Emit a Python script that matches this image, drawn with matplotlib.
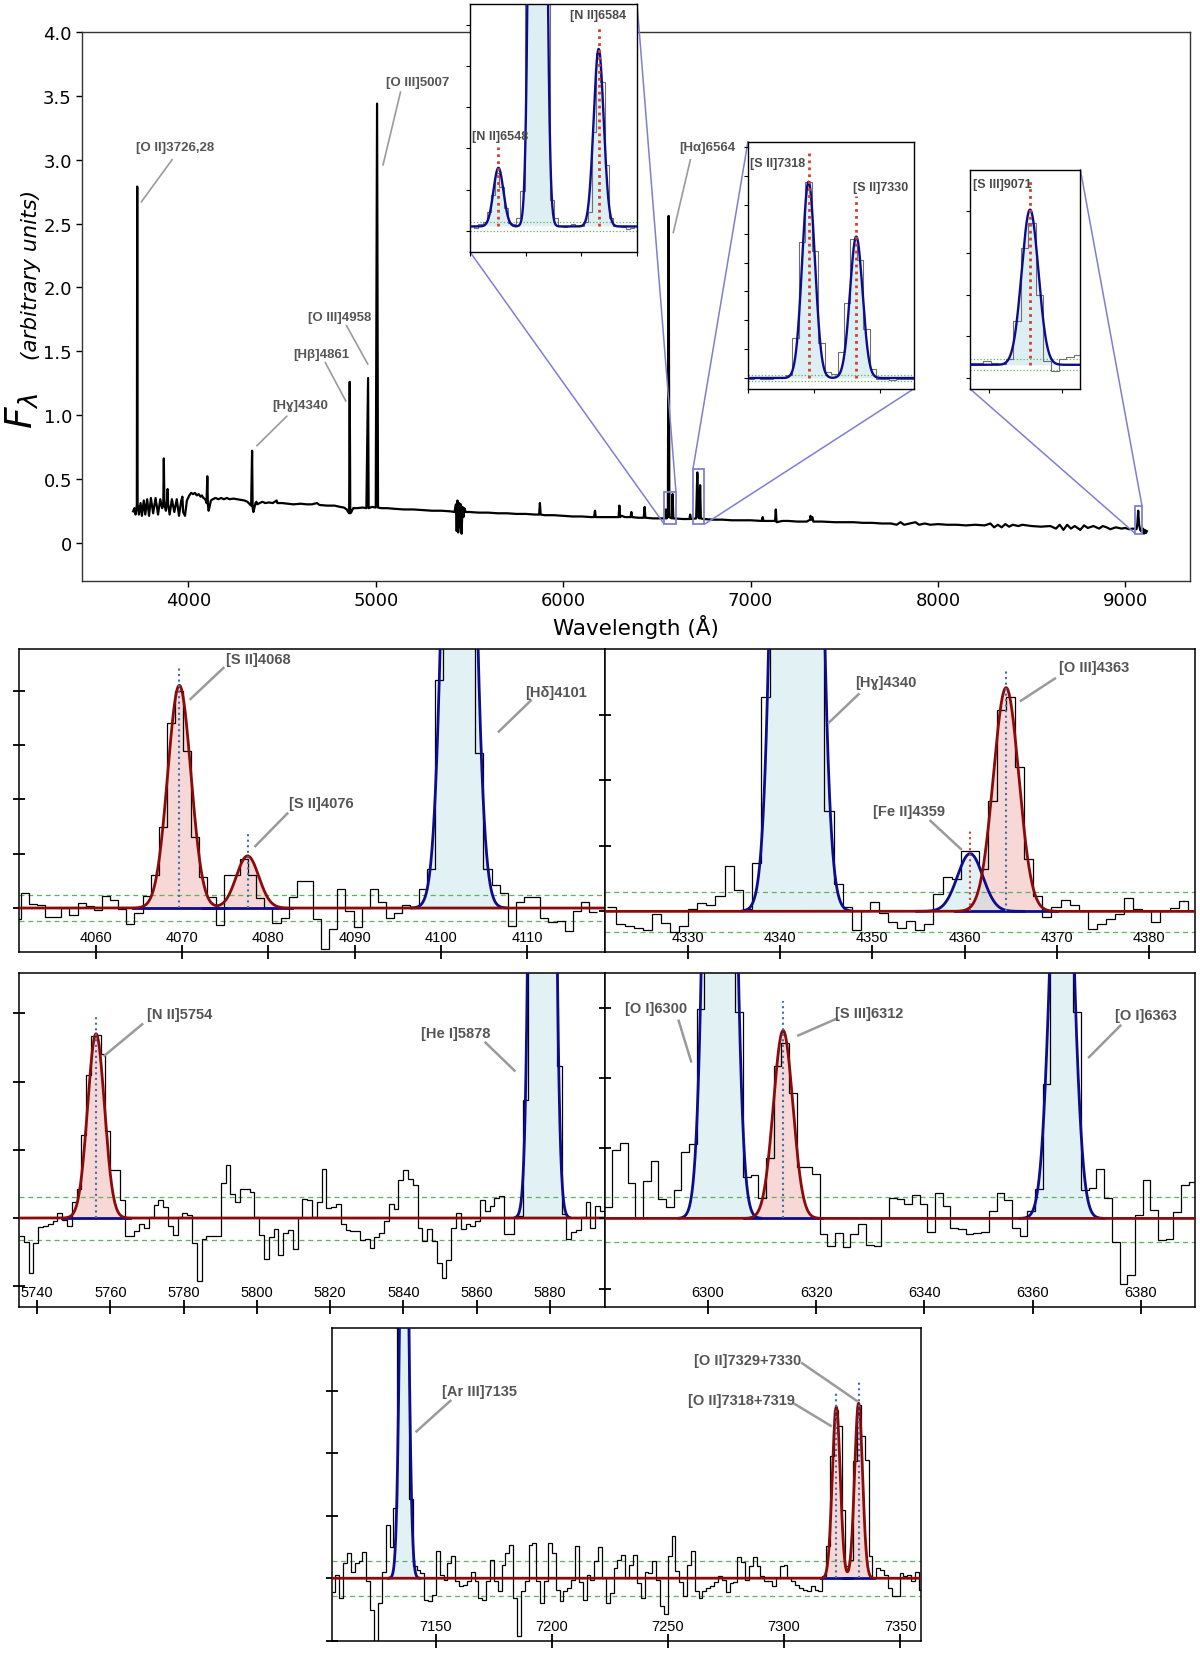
import numpy as np
import matplotlib.pyplot as plt
from matplotlib.patches import Rectangle, ConnectionPatch
from matplotlib.ticker import FuncFormatter

NARROW = ['Liberation Sans', 'DejaVu Sans']
RED = '#8b0a0a'
BLUE = '#0c0c8c'
RED_FILL = '#f2b8b5'
BLUE_FILL = '#bfe0e8'
GREEN = '#5fb35f'
DOT_BLUE = '#3d6fb0'
DOT_RED = '#d0402c'
LINE_GREY = '#9a9a9a'
TEXT_GREY = '#555555'
BOX = '#7f7fd2'

# ---------------- main spectrum (wavelength in A, flux in arbitrary units)
main_wave = [3705, 3712, 3718, 3722, 3725, 3727, 3729, 3736, 3745, 3752, 3762, 3770, 3780, 3790,
             3800, 3812, 3825, 3838, 3850, 3860, 3866, 3869, 3872, 3880, 3886, 3889, 3892, 3900,
             3912, 3925, 3938, 3950, 3962, 3968, 3972, 3982, 3992, 4005, 4015, 4025, 4035, 4045,
             4055, 4065, 4072,
             4080, 4090, 4097, 4101, 4104, 4108, 4113, 4120, 4130, 4145, 4160, 4175, 4190, 4205,
             4220, 4240, 4260, 4280, 4300, 4315, 4328, 4335, 4340, 4343, 4347, 4352, 4358, 4363,
             4368, 4380, 4395, 4410, 4430, 4450, 4471, 4475, 4500, 4530, 4560, 4600, 4630, 4660,
             4686, 4700, 4740, 4780, 4810, 4830, 4845, 4853, 4858, 4861, 4864, 4870, 4880, 4900,
             4930, 4950, 4959, 4962, 4980, 5000, 5007, 5012, 5030, 5060, 5100, 5150, 5200, 5250,
             5300, 5350, 5400, 5420, 5428, 5432, 5436, 5440, 5445, 5449, 5454, 5458, 5463, 5468,
             5473, 5480, 5500, 5550, 5600, 5650, 5700, 5750, 5800, 5850, 5872, 5876, 5880, 5900,
             5950, 6000, 6050, 6100, 6150, 6165, 6170, 6174, 6200, 6250, 6296, 6300, 6304, 6312,
             6330, 6360, 6364, 6368, 6400, 6430, 6435, 6439, 6480, 6520, 6545, 6548, 6552, 6559,
             6563, 6567, 6580, 6584, 6588, 6640, 6674, 6678, 6682, 6710, 6716, 6722, 6727, 6731,
             6735, 6750, 6800, 6850, 6900, 6950, 7000, 7060, 7065, 7069, 7110, 7131, 7135, 7139,
             7170, 7200, 7250, 7300, 7318, 7320, 7325, 7330, 7335, 7380, 7450, 7500, 7550, 7600,
             7650, 7700, 7750, 7780, 7800, 7820, 7850, 7880, 7900, 7930, 7960, 8000, 8050, 8100,
             8150, 8200, 8250, 8280, 8300, 8320, 8340, 8360, 8380, 8400, 8430, 8450, 8500, 8550,
             8600, 8630, 8650, 8670, 8690, 8710, 8730, 8760, 8780, 8800, 8830, 8860, 8880, 8900,
             8920, 8950, 8980, 9000, 9020, 9040, 9060, 9064, 9069, 9074, 9080, 9090, 9095, 9100,
             9105, 9110, 9115]
main_flux = [0.245, 0.27, 0.22, 0.26, 0.30, 2.79, 0.30, 0.22, 0.31, 0.21, 0.33, 0.22, 0.34, 0.21,
             0.35, 0.23, 0.35, 0.22, 0.34, 0.27, 0.30, 0.66, 0.30, 0.25, 0.33, 0.42, 0.30, 0.22,
             0.34, 0.24, 0.34, 0.21, 0.33, 0.36, 0.24, 0.21, 0.33, 0.37, 0.39, 0.38, 0.39, 0.37,
             0.38, 0.36, 0.37,
             0.35, 0.34, 0.31, 0.52, 0.30, 0.25, 0.28, 0.33, 0.34, 0.35, 0.34, 0.35, 0.34, 0.35,
             0.34, 0.345, 0.34, 0.335, 0.33, 0.32, 0.30, 0.29, 0.72, 0.27, 0.24, 0.27, 0.31, 0.32,
             0.30, 0.31, 0.32, 0.31, 0.315, 0.31, 0.33, 0.31, 0.31, 0.305, 0.30, 0.305, 0.30, 0.30,
             0.31, 0.295, 0.29, 0.29, 0.28, 0.275, 0.26, 0.24, 0.23, 1.26, 0.23, 0.24, 0.27, 0.27,
             0.275, 0.27, 1.29, 0.27, 0.28, 0.275, 3.44, 0.275, 0.27, 0.27, 0.265, 0.26, 0.26, 0.255,
             0.25, 0.25, 0.245, 0.24, 0.30, 0.09, 0.33, 0.08, 0.31, 0.12, 0.30, 0.07, 0.28, 0.20,
             0.27, 0.24, 0.24, 0.235, 0.235, 0.23, 0.23, 0.225, 0.225, 0.22, 0.22, 0.31, 0.22, 0.215,
             0.215, 0.21, 0.205, 0.205, 0.20, 0.20, 0.25, 0.20, 0.20, 0.20, 0.20, 0.29, 0.20, 0.21,
             0.20, 0.20, 0.24, 0.20, 0.195, 0.195, 0.28, 0.195, 0.19, 0.19, 0.19, 0.26, 0.19, 0.20,
             2.56, 0.20, 0.19, 0.38, 0.19, 0.185, 0.185, 0.22, 0.185, 0.19, 0.55, 0.20, 0.19, 0.45,
             0.19, 0.185, 0.18, 0.18, 0.175, 0.175, 0.175, 0.17, 0.20, 0.17, 0.17, 0.17, 0.26, 0.16,
             0.17, 0.17, 0.165, 0.165, 0.18, 0.21, 0.18, 0.20, 0.165, 0.165, 0.16, 0.16, 0.16, 0.155,
             0.155, 0.15, 0.15, 0.14, 0.16, 0.14, 0.15, 0.16, 0.14, 0.15, 0.14, 0.145, 0.14, 0.14,
             0.135, 0.14, 0.135, 0.15, 0.12, 0.14, 0.12, 0.145, 0.125, 0.14, 0.13, 0.14, 0.13, 0.125,
             0.13, 0.11, 0.14, 0.10, 0.14, 0.11, 0.13, 0.10, 0.135, 0.115, 0.13, 0.11, 0.13, 0.12,
             0.105, 0.12, 0.11, 0.115, 0.105, 0.11, 0.105, 0.14, 0.25, 0.14, 0.10, 0.08, 0.11, 0.07,
             0.10, 0.075, 0.09]

main_notes = ['[O II]3726,28', '[O III]5007', '[O III]4958', '[H\u03b2]4861', '[H\u0263]4340', '[H\u03b1]6564']
main_note_xy = [(3723, 3.10), (5055, 3.61), (4638, 1.77), (4560, 1.48), (4445, 1.08), (6619, 3.10)]
main_note_from = [(3913, 3.00), (5132, 3.53), (4844, 1.70), (4731, 1.41), (4525, 0.99), (6679, 3.00)]
main_note_to = [(3749, 2.67), (5039, 2.96), (4957, 1.40), (4840, 1.11), (4366, 0.76), (6588, 2.43)]

# zoom boxes on the main spectrum: (x0, x1, y0, y1)
boxes = [(6538, 6602, 0.148, 0.40), (6693, 6753, 0.143, 0.578), (9054, 9089, 0.07, 0.29)]

# ---------------- insets (flux in units of the inset tick spacing)
in1_start, in1_step = 6540.0, 1.51
in1_flux = [0.02, -0.03, 0.05, 0.1, 0.35, 0.75, 1.3, 0.95, 0.45, 0.08, 0.05, 0.2, 0.85, 6, 6, 6,
            6, 6, 6, 0.65, 0.2, 0.0, -0.02, 0.0, 0.05, 0.0, 0.02, 0.1, 0.35, 2.3, 4.2, 3.5, 1.5,
            0.2, 0.02, 0.0, -0.02, -0.05, -0.03, 0.0]
in1_c, in1_a, in1_s = [6550.2, 6564.3, 6586.2], [1.42, 60.0, 4.3], [1.8, 1.7, 1.8]
in1_dot_c, in1_dot_top = [6550.2, 6586.2], [1.92, 4.88]

in2_start, in2_step = 6697.8, 1.95
in2_flux = [0.0, -0.02, 0.02, -0.04, -0.05, 0.0, 0.03, 0.1, 1.4, 4.7, 6.8, 4.4, 1.2, 0.2, 0.15,
            0.9, 2.6, 4.8, 4.1, 1.7, 0.3, -0.03, -0.05, -0.06, -0.03, -0.04, -0.03]
in2_c, in2_a, in2_s = [6718.3, 6732.7], [6.8, 4.9], [1.9, 1.9]
in2_dot_c, in2_dot_top = [6718.3, 6732.7], [7.9, 6.3]

in3_start, in3_step = 9054.45, 2.05
in3_flux = [0.05, 0.05, 0.08, 0.05, 0.02, 0.14, 1.06, 2.8, 3.4, 1.67, 0.1, -0.14, 0.14, 0.19, 0.23]
in3_c, in3_a, in3_s = [9071.3], [3.72], [2.27]
in3_dot_c, in3_dot_top = [9071.3], [4.46]

# ---------------- zoomed panels
p1_start, p1_step = 4050.4, 0.94
p1_flux = [-0.2, 0.28, 0.07, 0.05, -0.17, -0.17, 0.0, -0.12, 0.1, 0.03, -0.04, 0.22, 0.14, -0.02,
           -0.3, -0.1, 0.22, 0.6, 1.5, 3.4, 4.0, 2.9, 1.3, 0.58, 0.2, -0.32, 0.6, 0.6, 0.9, 0.6,
           0.18, 0.0, -0.27, -0.18, 0.2, 0.5, 0.5, -0.2, -0.75, -0.38, 0.35, -0.05, -0.35, 0.0,
           0.35, 0.11, -0.18, -0.1, 0.05, 0.0, 0.35, 0.72, 4.2, 6, 6, 6, 6, 2.85, 0.72, 0.42, 0.28,
           -0.33, 0.11, 0.2, 0.2, -0.18, -0.25, -0.23, -0.43, -0.06, 0.11, -0.07]
p1_red_c, p1_red_a, p1_red_s = [4069.7, 4077.6], [4.1, 0.96], [1.34, 1.3]
p1_blue_c, p1_blue_a, p1_blue_s = [4102.1], [20.0], [1.3]
p1_dot_c, p1_dot_top, p1_dot_col = [4069.7, 4077.6], [4.48, 1.37], [DOT_BLUE, DOT_BLUE]
p1_notes = ['[S II]4068', '[S II]4076', '[H\u03b4]4101']
p1_note_xy = [(4075.1, 4.58), (4082.4, 1.93), (4109.7, 3.98)]
p1_note_from = [(4074.8, 4.42), (4082.2, 1.74), (4110.4, 3.82)]
p1_note_to = [(4071.0, 3.85), (4078.5, 1.14), (4106.7, 3.25)]

p2_start, p2_step = 4321.16, 0.985
p2_flux = [0.07, -0.19, -0.23, -0.26, -0.28, -0.04, -0.17, -0.32, -0.22, 0.04, 0.12, 0.1, 0.24,
           0.69, 0.33, 0.03, 0.74, 3.27, 6, 6, 6, 6, 6, 6, 1.53, 0.41, 0.07, -0.29, 0.0, 0.14,
           -0.03, -0.16, -0.26, -0.14, -0.29, -0.19, 0.26, 0.52, 0.49, 0.92, 0.92, 0.64, 1.69,
           3.07, 3.27, 2.2, 0.8, 0.23, -0.08, 0.06, 0.18, 0.1, 0.01, -0.27, -0.19, -0.12, -0.04,
           0.2, 0.04, 0.01, -0.16, 0.01, 0.05, 0.16, 0.0]
p2_red_c, p2_red_a, p2_red_s = [4364.5], [3.41], [1.38]
p2_blue_c, p2_blue_a, p2_blue_s = [4341.8, 4360.6], [44.0, 0.88], [1.4, 1.38]
p2_dot_c, p2_dot_top, p2_dot_col = [4360.6, 4364.5], [1.23, 3.68], [DOT_RED, DOT_BLUE]
p2_notes = ['[H\u0263]4340', '[Fe II]4359', '[O III]4363']
p2_note_xy = [(4348.1, 3.5), (4350.05, 1.53), (4370.2, 3.73)]
p2_note_from = [(4348.5, 3.31), (4356.3, 1.38), (4369.8, 3.55)]
p2_note_to = [(4345.3, 2.88), (4359.6, 0.95), (4366.1, 3.21)]

p3_start, p3_step = 5735.1, 1.31
p3_flux = [-0.26, -0.35, -0.81, -0.36, -0.13, -0.11, -0.09, -0.04, 0.08, -0.03, -0.11, 0.23, 0.43,
           1.22, 2.09, 2.67, 2.68, 2.4, 1.28, 0.71, 0.71, 0.27, -0.27, -0.27, -0.19, -0.09, -0.15,
           0.02, 0.19, 0.27, 0.16, -0.11, -0.25, 0.01, 0.07, 0.04, -0.37, -0.93, -0.3, -0.27,
           -0.27, -0.26, 0.51, 0.77, 0.35, 0.24, 0.43, 0.42, 0.38, 0.01, -0.25, -0.6, -0.28,
           -0.16, -0.54, -0.22, -0.17, -0.45, 0.0, 0.28, 0.27, 0.01, 0.24, 0.72, 0.14, 0.16, 0.21,
           -0.09, -0.17, -0.19, -0.19, -0.32, -0.31, -0.44, -0.28, -0.22, -0.04, 0.21, 0.13, 0.56,
           0.71, 0.57, 0.49, -0.15, -0.33, -0.16, -0.33, -0.66, -0.88, -0.62, -0.14, 0.08, -0.16,
           -0.09, -0.11, -0.04, 0.27, 0.11, 0.18, 0.29, 0.33, -0.23, -0.23, 0.0, 0.03, 1.73, 5, 5,
           5, 5, 5, 5, 2.23, 0.06, -0.31, -0.2, -0.17, 0.01, 0.24, -0.14, 0.17, 0.1]
p3_red_c, p3_red_a, p3_red_s = [5756.1], [2.70], [2.3]
p3_blue_c, p3_blue_a, p3_blue_s = [5877.9], [53.0], [1.77]
p3_dot_c, p3_dot_top, p3_dot_col = [5756.1], [2.97], [DOT_BLUE]
p3_notes = ['[N II]5754', '[He I]5878']
p3_note_xy = [(5769.9, 2.99), (5844.9, 2.71)]
p3_note_from = [(5768.7, 2.84), (5862.4, 2.57)]
p3_note_to = [(5758.4, 2.38), (5870.3, 2.16)]

p4_start, p4_step = 6280.9, 1.42
p4_flux = [0.16, 0.97, 1.07, 0.5, 0.0, 0.54, 0.82, 0.28, 0.16, 0.4, 0.95, 1.06, 2.99, 5, 5, 5, 5,
           2.95, 0.59, 0.62, 0.29, 0.86, 2.17, 2.5, 1.79, 0.73, 0.74, 0.63, -0.22, -0.39, -0.21,
           -0.41, -0.22, -0.08, -0.38, -0.4, 0.0, 0.29, 0.27, 0.2, 0.33, 0.2, -0.2, 0.36, 0.18,
           -0.14, -0.15, -0.22, -0.21, -0.2, 0.11, 0.36, 0.26, -0.13, -0.25, 0.11, 0.42, 1.92, 5,
           5, 5, 2.94, 0.4, 0.44, 0.7, 0.29, -0.33, -0.94, -0.81, 0.05, 0.55, 0.12, -0.31, -0.3,
           0.09, 0.48, 0.52]
p4_red_c, p4_red_a, p4_red_s = [6313.9], [2.68], [1.8]
p4_blue_c, p4_blue_a, p4_blue_s = [6302.2, 6365.4], [22.0, 7.6], [1.8, 1.85]
p4_dot_c, p4_dot_top, p4_dot_col = [6313.9], [3.1], [DOT_BLUE]
p4_notes = ['[O I]6300', '[S III]6312', '[O I]6363']
p4_note_xy = [(6284.6, 3.0), (6323.5, 2.93), (6375.2, 2.9)]
p4_note_from = [(6294.6, 2.82), (6323.8, 2.85), (6376.2, 2.75)]
p4_note_to = [(6296.9, 2.24), (6316.7, 2.61), (6370.4, 2.3)]

p5_start, p5_step = 7105.0, 1.665
p5_flux = [-0.22, 0.05, -0.31, 0.25, 0.4, 0.1, 0.25, 0.27, 0.42, -0.05, -0.5, -1.1, -0.4, 0.1, 0.85,
           0.5, 1.13, 6, 6, 4.5, 1.27, 0.2, 0.14, 0.09, -0.34, -0.36, -0.26, 0.44, 0.06, -0.02,
           0.25, 0.36, -0.04, -0.12, -0.1, -0.04, 0.1, -0.04, -0.31, -0.34, -0.04, 0.3, -0.04,
           -0.2, 0.22, 0.41, 0.53, -0.31, -0.92, -0.2, -0.04, 0.54, 0.56, -0.04, -0.39, -0.04,
           0.56, 0.41, -0.19, -0.36, -0.2, -0.15, -0.02, 0.52, -0.06, -0.34, 0.06, -0.02, 0.28,
           0.5, 0.01, -0.39, -0.23,
           0.17, 0.29, 0.38, 0.01, 0.22, 0.37, -0.07, -0.31, 0.1, 0.09, 0.28, -0.02, -0.44, -0.57,
           0.36, 0.68, 0.12, -0.06, -0.28, 0.21, 0.44, -0.2, -0.32, -0.2, -0.16, -0.12, -0.06,
           0.04, -0.02, -0.22, -0.07, -0.06, 0.34, 0.26, -0.02, 0.2, 0.34, 0.2, 0.04, -0.04, -0.04,
           -0.12, 0.01, 0.2, 0.21, 0.01, -0.04, -0.11, -0.15, -0.18, -0.2, -0.12, -0.18, -0.2,
           0.04, 0.52, 1.95, 2.7, 2.43, 1.1, 0.2, 0.3, 1.87, 2.78, 2.27, 1.9, 0.36, 0.0, 0.17,
           0.14, 0.06, -0.15, -0.28, -0.28, 0.09, 0.04, 0.06, -0.05, 0.1, -0.18]
p5_red_c, p5_red_a, p5_red_s = [7322.5, 7332.1], [2.74, 2.80], [1.7, 1.7]
p5_blue_c, p5_blue_a, p5_blue_s = [7136.3], [9.0], [1.6]
p5_dot_c, p5_dot_top, p5_dot_col = [7322.5, 7332.1], [2.96, 3.15], [DOT_BLUE, DOT_BLUE]
p5_notes = ['[Ar III]7135', '[O II]7329+7330', '[O II]7318+7319']
p5_note_xy = [(7152.5, 3.0), (7261.0, 3.49), (7258.5, 2.86)]
p5_note_from = [(7156.2, 2.84), (7307.8, 3.44), (7304.5, 2.79)]
p5_note_to = [(7141.6, 2.35), (7331.3, 2.84), (7320.1, 2.44)]


def gauss(x, c, a, s):
    return a * np.exp(-0.5 * ((x - c) / s) ** 2)


def zoom_panel(ax, start, step, flux, xlim, ylim, red, blue, dots, notes, xticks, yticks, green):
    edges = start + step * np.arange(len(flux) + 1)
    x = np.linspace(xlim[0], xlim[1], 3000)
    red_model = np.zeros_like(x)
    for c, a, s in zip(*red):
        red_model += gauss(x, c, a, s)
    ax.fill_between(x, 0, red_model, where=red_model > 0.003, color=RED_FILL, alpha=0.55, lw=0, zorder=1)
    for c, a, s in zip(*blue):
        xb = np.linspace(c - 4.2 * s, c + 4.2 * s, 400)
        yb = gauss(xb, c, a, s)
        ax.fill_between(xb, 0, yb, color=BLUE_FILL, alpha=0.45, lw=0, zorder=1)
        ax.plot(xb, yb, color=BLUE, lw=2.0, zorder=3)
    for c, a, s in zip(*red):
        ax.plot([c - 4.0 * s, c + 4.0 * s], [0, 0], color=BLUE, lw=2.0, zorder=3)
    ax.stairs(flux, edges, baseline=None, color='k', lw=0.9, zorder=2)
    ax.plot(x, red_model, color=RED, lw=2.0, zorder=4)
    for g in green:
        ax.axhline(g, color=GREEN, lw=0.9, ls=(0, (4, 3)), zorder=1.5)
    for c, top, col in zip(*dots):
        ax.plot([c, c], [0, top], color=col, lw=1.5, ls=':', zorder=5)
    for txt, xy, p0, p1 in zip(*notes):
        ax.plot([p0[0], p1[0]], [p0[1], p1[1]], color=LINE_GREY, lw=1.8, zorder=6)
        ax.text(xy[0], xy[1], txt, ha='left', va='center', fontsize=10.5, fontweight='bold',
                color=TEXT_GREY, family=NARROW, zorder=6)
    ax.set_xlim(*xlim)
    ax.set_ylim(*ylim)
    ax.set_xticks(xticks)
    ax.set_yticks(yticks)
    ax.tick_params(axis='x', direction='inout', length=10, width=1.3, pad=-21, labelsize=10.5,
                   labelfontfamily=NARROW)
    ax.tick_params(axis='y', direction='inout', length=9, width=1.3, labelleft=False)
    for sp in ax.spines.values():
        sp.set_linewidth(1.1)


def inset_panel(ax, start, step, flux, xlim, ylim, lines, dots, xticks, yticks, green, labels):
    edges = start + step * np.arange(len(flux) + 1)
    x = np.linspace(xlim[0], xlim[1], 2000)
    model = np.zeros_like(x)
    for c, a, s in zip(*lines):
        model += gauss(x, c, a, s)
    ax.fill_between(x, 0, model, color=BLUE_FILL, alpha=0.5, lw=0, zorder=1)
    ax.stairs(flux, edges, baseline=None, color='#6f6f6f', lw=0.8, zorder=2)
    ax.plot(x, model, color=BLUE, lw=1.7, zorder=3)
    for g in green:
        ax.axhline(g, color=GREEN, lw=0.9, ls=':', zorder=1.5)
    for c, top in zip(*dots):
        ax.plot([c, c], [0, top], color=DOT_RED, lw=2.0, ls=(0, (1, 1.5)), zorder=4)
    for txt, xy in zip(*labels):
        ax.text(xy[0], xy[1], txt, ha='left', va='center', fontsize=9, fontweight='bold',
                color='#4a4a4a', family=NARROW, zorder=5)
    ax.set_xlim(*xlim)
    ax.set_ylim(*ylim)
    ax.set_xticks(xticks)
    ax.set_yticks(yticks)
    ax.tick_params(direction='out', length=3, width=0.8, labelbottom=False, labelleft=False)
    for sp in ax.spines.values():
        sp.set_linewidth(1.0)


fig = plt.figure(figsize=(12.0, 16.56), dpi=100)

# ---------------- main spectrum
ax = fig.add_axes([0.0686, 0.6486, 0.923, 0.3314])
ax.plot(main_wave, main_flux, color='k', lw=1.6, zorder=3)
ax.set_xlim(3434, 9345)
ax.set_ylim(-0.3, 4.0)
ax.set_xticks([4000, 5000, 6000, 7000, 8000, 9000])
ax.set_yticks([0, 0.5, 1.0, 1.5, 2.0, 2.5, 3.0, 3.5, 4.0])
ax.yaxis.set_major_formatter(FuncFormatter(lambda v, p: '0' if v == 0 else f'{v:.1f}'))
ax.tick_params(labelsize=13, length=4, width=1)
ax.set_xlabel('Wavelength (\u00c5)', fontsize=15.5, labelpad=3)
for sp in ax.spines.values():
    sp.set_linewidth(1.0)
    sp.set_color('#333333')
for txt, xy, p0, p1 in zip(main_notes, main_note_xy, main_note_from, main_note_to):
    ax.plot([p0[0], p1[0]], [p0[1], p1[1]], color=LINE_GREY, lw=1.2, zorder=4)
    ax.text(xy[0], xy[1], txt, ha='left', va='center', fontsize=9.5, fontweight='bold',
            color=TEXT_GREY, family=NARROW, zorder=4)
for x0, x1, y0, y1 in boxes:
    ax.add_patch(Rectangle((x0, y0), x1 - x0, y1 - y0, fill=False, ec=BOX, lw=1.3, zorder=5))

fig.text(0.019, 0.752, r'$F_\lambda$', rotation=90, fontsize=27, ha='center', va='center')
fig.text(0.026, 0.834, '(arbitrary units)', rotation=90, fontsize=15.5, style='italic',
         ha='center', va='center')

# ---------------- insets
ins1 = fig.add_axes([0.3917, 0.8472, 0.1392, 0.1498], zorder=5)
inset_panel(ins1, in1_start, in1_step, in1_flux, (6540, 6600), (-0.62, 5.39),
            (in1_c, in1_a, in1_s), (in1_dot_c, in1_dot_top), [6540, 6560, 6580, 6600],
            [-0.11 + k for k in range(6)], [0.1, -0.11],
            (['[N II]6548', '[N II]6584'], [(6540.6, 2.2), (6576.0, 5.12)]))
ins2 = fig.add_axes([0.6233, 0.7645, 0.1380, 0.1494], zorder=5)
inset_panel(ins2, in2_start, in2_step, in2_flux, (6700, 6750), (-0.38, 8.19),
            (in2_c, in2_a, in2_s), (in2_dot_c, in2_dot_top), [6700, 6720, 6740],
            list(range(9)), [0.1, -0.09],
            (['[S II]7318', '[S II]7330'], [(6700.5, 7.45), (6731.8, 6.6)]))
ins3 = fig.add_axes([0.8085, 0.7645, 0.0918, 0.1325], zorder=5)
inset_panel(ins3, in3_start, in3_step, in3_flux, (9055, 9085), (-0.58, 4.68),
            (in3_c, in3_a, in3_s), (in3_dot_c, in3_dot_top), [9060, 9080],
            [-0.32 + k for k in range(5)], [0.14, -0.13],
            (['[S III]9071'], [(9055.8, 4.33)]))

links = [(ins1, boxes[0], [((0, 2), (0, 0)), ((1, 3), (1, 1))]),
         (ins2, boxes[1], [((0, 3), (0, 1)), ((1, 2), (1, 0))]),
         (ins3, boxes[2], [((0, 2), (0, 0)), ((1, 3), (1, 1))])]
for ins, box, pairs in links:
    for (ix, iy), corner in pairs:
        con = ConnectionPatch(xyA=(box[ix], box[iy]), coordsA=ax.transData,
                              xyB=corner, coordsB=ins.transAxes, color=BOX, lw=1.1)
        fig.add_artist(con)

# ---------------- zoomed panels
a1 = fig.add_axes([0.0156, 0.4245, 0.4886, 0.1830])
zoom_panel(a1, p1_start, p1_step, p1_flux, (4051.1, 4119), (-0.81, 4.77),
           (p1_red_c, p1_red_a, p1_red_s), (p1_blue_c, p1_blue_a, p1_blue_s),
           (p1_dot_c, p1_dot_top, p1_dot_col), (p1_notes, p1_note_xy, p1_note_from, p1_note_to),
           [4060, 4070, 4080, 4090, 4100, 4110], [0, 1, 2, 3, 4], [0.24, -0.24])

a2 = fig.add_axes([0.5042, 0.4245, 0.4917, 0.1830])
zoom_panel(a2, p2_start, p2_step, p2_flux, (4321, 4385), (-0.62, 4.0),
           (p2_red_c, p2_red_a, p2_red_s), (p2_blue_c, p2_blue_a, p2_blue_s),
           (p2_dot_c, p2_dot_top, p2_dot_col), (p2_notes, p2_note_xy, p2_note_from, p2_note_to),
           [4330, 4340, 4350, 4360, 4370, 4380], [0, 1, 2, 3], [0.3, -0.31])

a3 = fig.add_axes([0.0156, 0.2103, 0.4886, 0.2015])
zoom_panel(a3, p3_start, p3_step, p3_flux, (5735, 5895), (-1.30, 3.59),
           (p3_red_c, p3_red_a, p3_red_s), (p3_blue_c, p3_blue_a, p3_blue_s),
           (p3_dot_c, p3_dot_top, p3_dot_col), (p3_notes, p3_note_xy, p3_note_from, p3_note_to),
           list(range(5740, 5881, 20)), [-1, 0, 1, 2, 3], [0.31, -0.32])

a4 = fig.add_axes([0.5042, 0.2103, 0.4917, 0.2015])
zoom_panel(a4, p4_start, p4_step, p4_flux, (6281, 6390), (-1.26, 3.5),
           (p4_red_c, p4_red_a, p4_red_s), (p4_blue_c, p4_blue_a, p4_blue_s),
           (p4_dot_c, p4_dot_top, p4_dot_col), (p4_notes, p4_note_xy, p4_note_from, p4_note_to),
           [6300, 6320, 6340, 6360, 6380], [-1, 0, 1, 2, 3], [0.31, -0.33])

a5 = fig.add_axes([0.2763, 0.0086, 0.4912, 0.1887])
zoom_panel(a5, p5_start, p5_step, p5_flux, (7105, 7359), (-1.0, 4.0),
           (p5_red_c, p5_red_a, p5_red_s), (p5_blue_c, p5_blue_a, p5_blue_s),
           (p5_dot_c, p5_dot_top, p5_dot_col), (p5_notes, p5_note_xy, p5_note_from, p5_note_to),
           [7150, 7200, 7250, 7300, 7350], [-1, 0, 1, 2, 3], [0.28, -0.28])

fig.savefig('out.png', dpi=100)
